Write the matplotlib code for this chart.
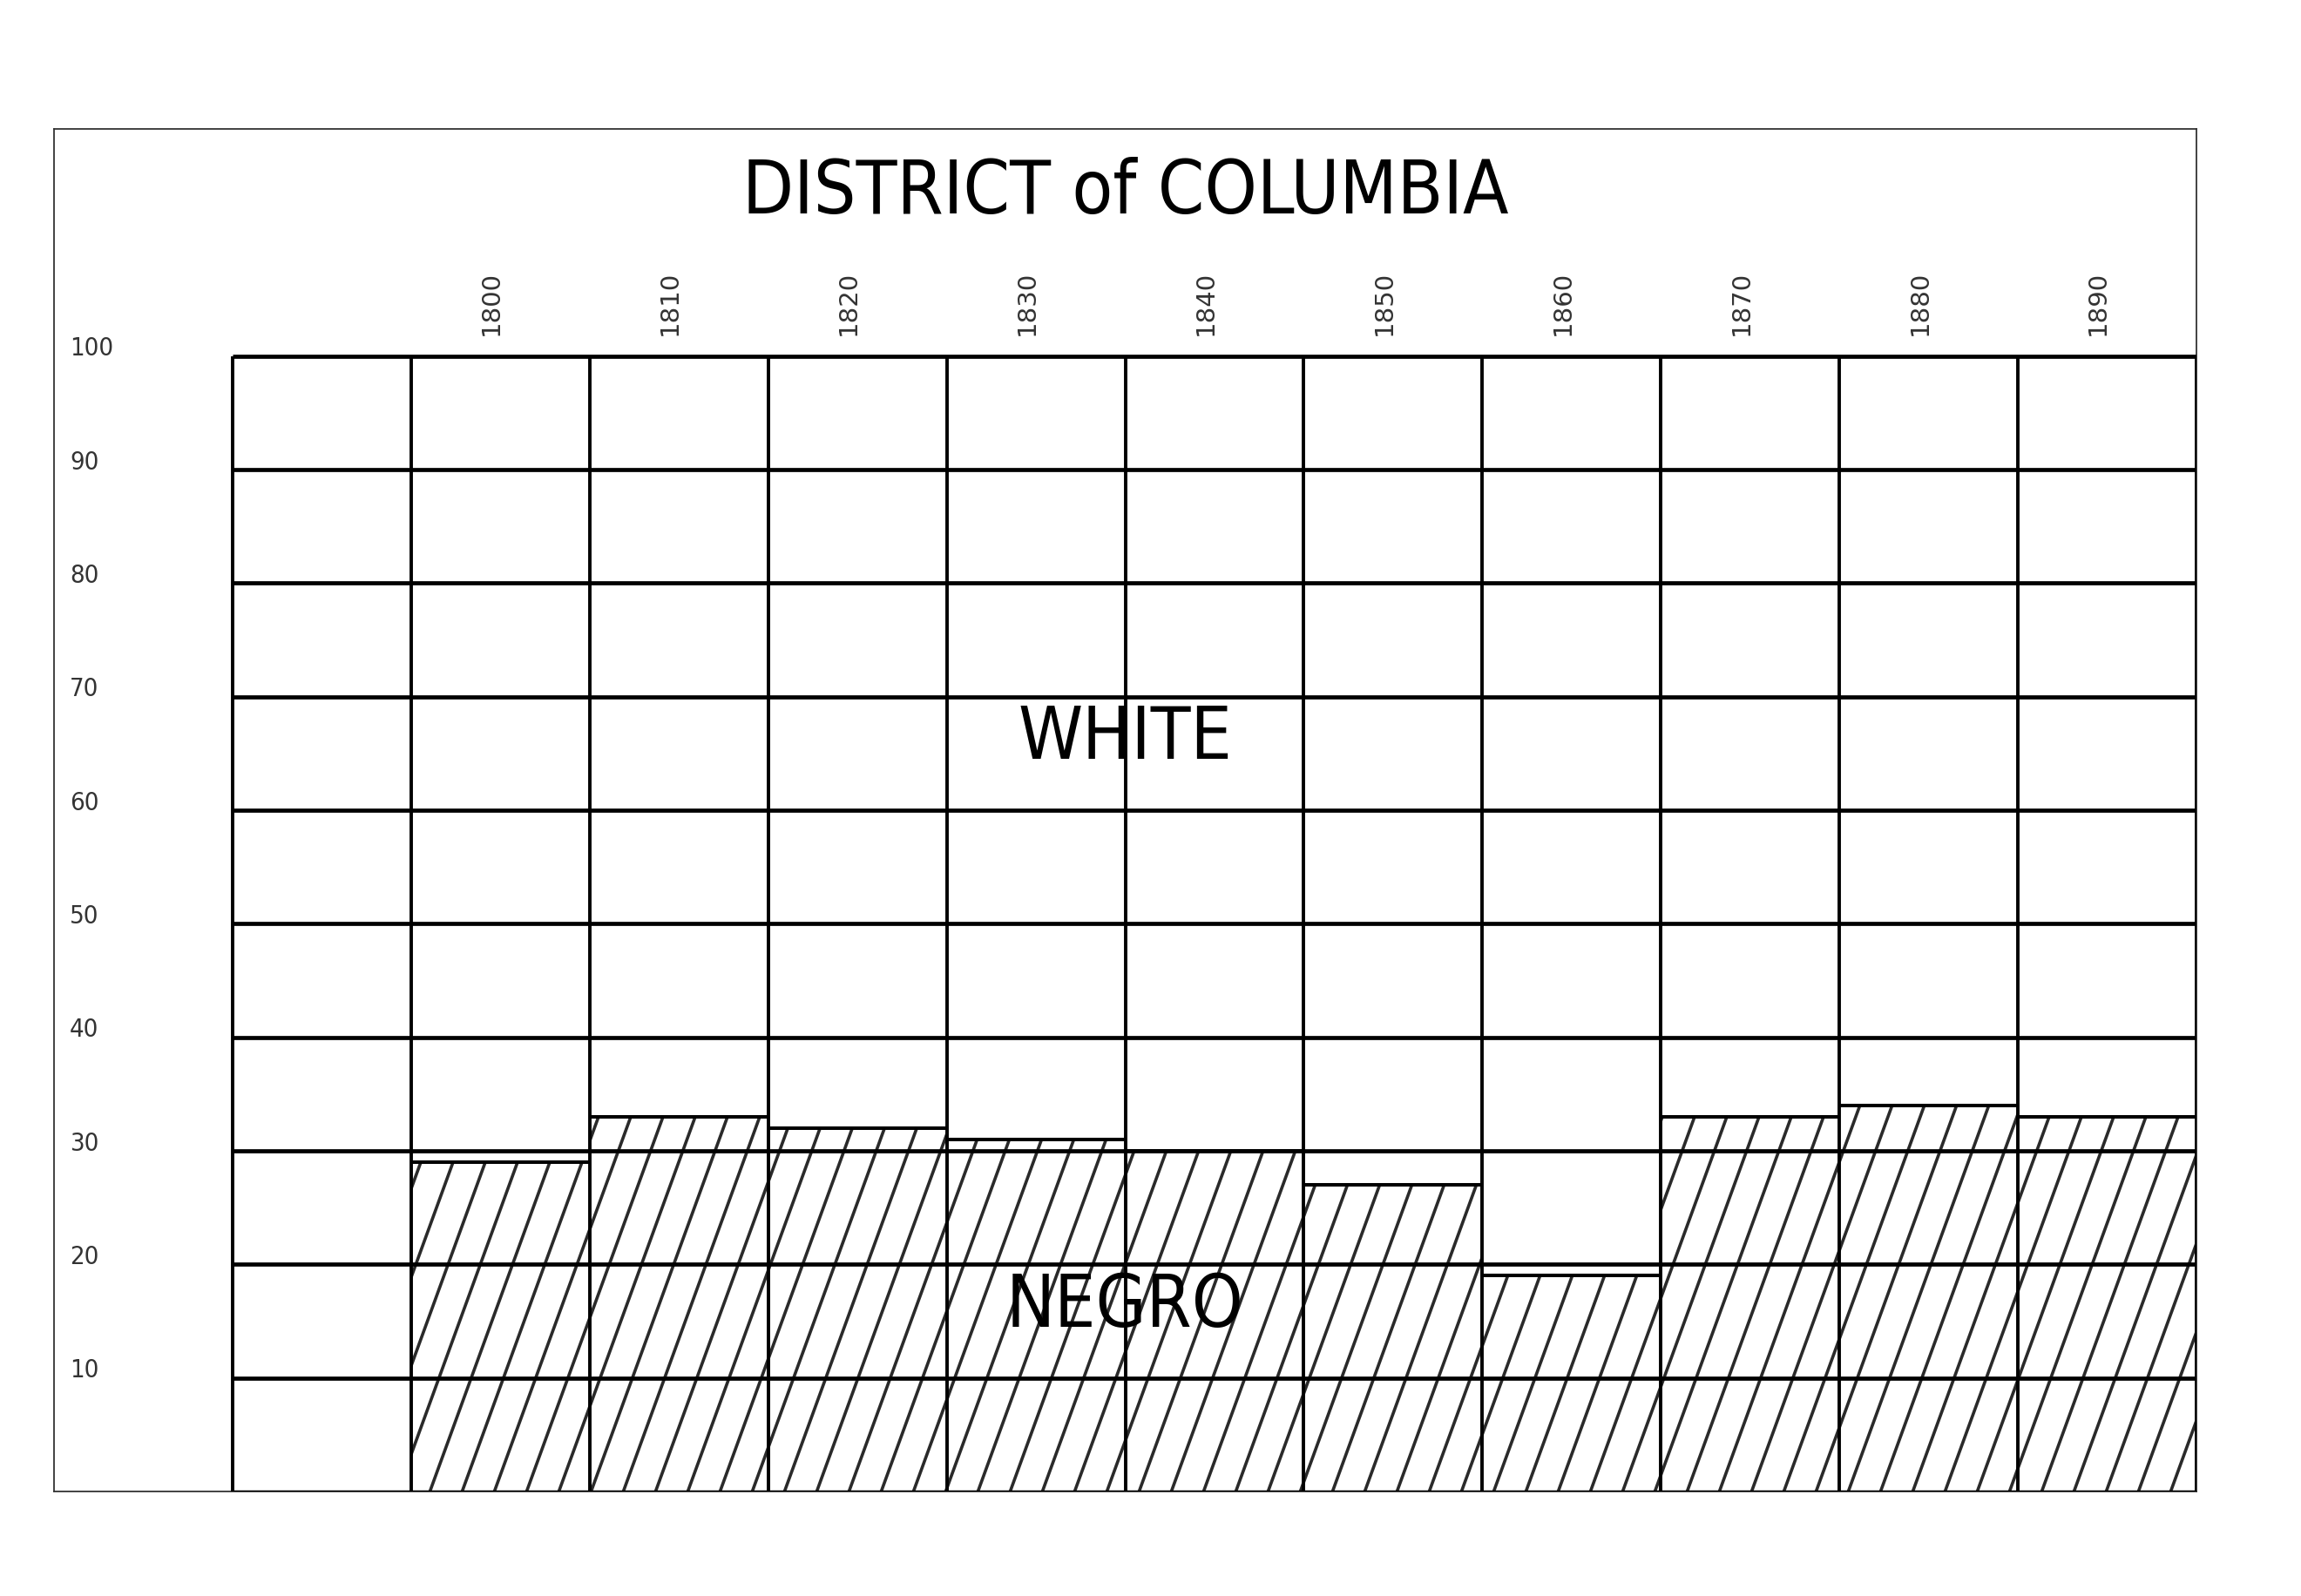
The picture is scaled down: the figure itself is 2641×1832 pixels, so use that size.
import numpy as np
import matplotlib
matplotlib.use("Agg")
import matplotlib.pyplot as plt
from matplotlib.patches import Rectangle
from matplotlib.collections import LineCollection

# ---- data ----
years = ["1800", "1810", "1820", "1830", "1840", "1850", "1860", "1870", "1880", "1890"]
negro_pct = [29, 33, 32, 31, 30, 27, 19, 33, 34, 33]
y_ticks = [10, 20, 30, 40, 50, 60, 70, 80, 90, 100]
y_tick_labels = ["10", "20", "30", "40", "50", "60", "70", "80", "90", "100"]
title = "DISTRICT of COLUMBIA"
label_top = "WHITE"
label_bottom = "NEGRO"

plt.rcParams["font.family"] = ["DejaVu Sans"]
plt.rcParams["font.stretch"] = "condensed"

W, H, DPI = 2641, 1833, 100
fig = plt.figure(figsize=(W / DPI, H / DPI), dpi=DPI)
fig.patch.set_facecolor("white")
ax = fig.add_axes([62 / W, 1 - 1713 / H, (2521 - 62) / W, (1713 - 149) / H])
ax.set_xlim(0, 12)
ax.set_ylim(0, 120)
ax.set_xticks([])
ax.set_yticks([])
for s in ax.spines.values():
    s.set_linewidth(1.3)
    s.set_color("#333333")

first_col = 2  # first bar column index

# pixel scales for hatch geometry
p0 = ax.transData.transform((0, 0))
p1 = ax.transData.transform((1, 1))
sx, sy = p1[0] - p0[0], p1[1] - p0[1]
angle = np.deg2rad(70)
slope = (sy / np.tan(angle)) / sx   # data-x shift per data-y unit
spacing = 37.0 / sx                 # horizontal spacing in data x
x_ref = (520 - 62) / sx             # a hatch line passes here at y=29
base0 = x_ref - 29 * slope

# ---- bars ----
for i, (yr, v) in enumerate(zip(years, negro_pct)):
    x0 = first_col + i
    rect = Rectangle((x0, 0), 1, v, facecolor="white", edgecolor="none", zorder=1)
    ax.add_patch(rect)
    kmin = int(np.floor((x0 - base0 - v * slope) / spacing)) - 1
    kmax = int(np.ceil((x0 + 1 - base0) / spacing)) + 1
    segs = []
    for k in range(kmin, kmax + 1):
        c = base0 + k * spacing
        segs.append([(c, 0), (c + v * slope, v)])
    lc = LineCollection(segs, colors="#2a2a2a", linewidths=2.6, zorder=2)
    ax.add_collection(lc)
    lc.set_clip_path(rect)
    ax.hlines(v, x0, x0 + 1, colors="black", linewidth=2.9, zorder=3)

# ---- grid ----
for t in y_ticks:
    ax.hlines(t, 1, 12, colors="black", linewidth=3.4, zorder=4)
ax.hlines(0, 1, 12, colors="black", linewidth=2.5, zorder=4)
for xv in range(1, 13):
    ax.vlines(xv, 0, 100, colors="black", linewidth=2.8, zorder=4)

# ---- labels ----
for t, lab in zip(y_ticks, y_tick_labels):
    ax.text(0.0875, t + 0.1, lab, ha="left", va="baseline", fontsize=21,
            color="#333333", zorder=5)
for i, yr in enumerate(years):
    ax.text(first_col + i + 0.45, 101.9, yr, rotation=90, ha="center", va="bottom",
            fontsize=21, fontstretch="normal", color="#333333", zorder=5)

ax.text(6, 112.6, title, ha="center", va="baseline", fontsize=61.5, color="black", zorder=5)
ax.text(6, 64.6, label_top, ha="center", va="baseline", fontsize=60, color="black", zorder=5)
ax.text(6, 14.57, label_bottom, ha="center", va="baseline", fontsize=60, color="black", zorder=5)

fig.savefig("out.png", dpi=DPI, facecolor="white")
